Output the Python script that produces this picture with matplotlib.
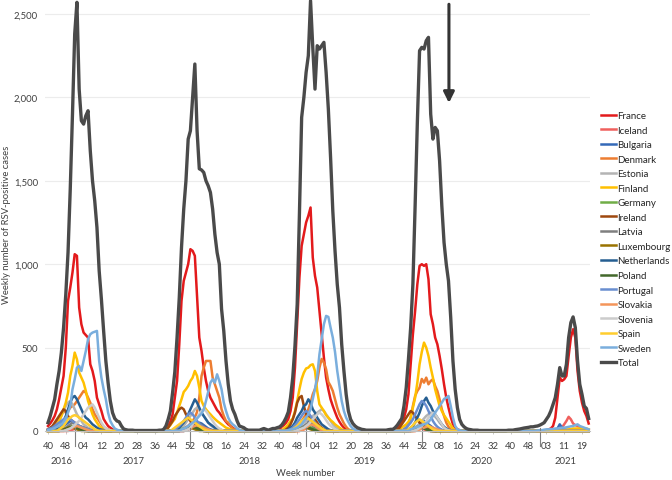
import matplotlib.pyplot as plt
import matplotlib.transforms as mtransforms
import numpy as np

plt.rcParams['font.family'] = ['Lato', 'DejaVu Sans']

# weeks 2016-w40 ... 2021-w22 -> index 0..243
N_WEEKS = 244

WEEK_LABELS = ['40', '48', '04', '12', '20', '28', '36', '44', '52', '08', '16',
               '24', '32', '40', '48', '04', '12', '20', '28', '36', '44', '52',
               '08', '16', '24', '32', '40', '48', '03', '11', '19']
YEARS = ['2016', '2017', '2018', '2019', '2020', '2021']
YEAR_LAST_WEEK = [12, 64, 116, 168, 221, 243]   # index of the last week of each year shown

# values per season: {start week index: weekly counts}
TOTAL = {
    0: [50, 90, 140, 190, 280, 360, 470, 620, 820, 1070, 1450, 1900, 2380, 2570, 2050,
        1860, 1840, 1890, 1920, 1680, 1500, 1380, 1220, 960, 790, 600, 420, 290, 180,
        110, 75, 60, 55, 30, 12, 8, 5, 5, 5, 3, 3, 3, 3, 3, 3, 3, 3, 3, 3, 3, 5, 5],
    52: [10, 30, 70, 120, 230, 354, 560, 800, 1100, 1330, 1500, 1750, 1800, 2000, 2200,
         1800, 1572, 1565, 1550, 1500, 1470, 1430, 1330, 1180, 1070, 1000, 732, 600, 420,
         280, 180, 130, 100, 60, 30, 25, 20, 10, 5, 5, 5, 5, 5, 5, 10, 15, 10, 5, 10, 15,
         15, 20],
    104: [24, 35, 54, 80, 114, 200, 320, 510, 760, 1300, 1880, 2000, 2150, 2250, 2580,
          2300, 2050, 2310, 2290, 2310, 2330, 2150, 1930, 1640, 1320, 1080, 880, 740, 520,
          360, 220, 120, 70, 45, 30, 20, 15, 10, 8, 5, 5, 5, 5, 5, 5, 5, 5, 5, 5, 8, 10],
    155: [10, 20, 35, 55, 75, 150, 260, 430, 620, 880, 1350, 1850, 2280, 2300, 2290, 2340,
          2360, 1900, 1750, 1820, 1800, 1620, 1350, 1130, 1000, 900, 680, 420, 250, 140,
          70, 40, 25, 15, 10, 8, 5, 5, 5, 3, 3, 3, 3, 3, 3, 3, 3, 3, 3, 3],
    205: [3, 3, 5, 5, 5, 8, 10, 12, 15, 18, 20, 22, 25, 25, 28, 30, 35, 42, 50, 70, 90,
          120, 160, 200, 280, 380, 330, 330, 400, 560, 650, 684, 620, 420, 280, 220, 150,
          135, 75],
}
FRANCE = {
    0: [30, 45, 65, 90, 130, 190, 260, 330, 500, 780, 860, 950, 1060, 1050, 740, 640, 590,
        575, 560, 400, 360, 300, 200, 160, 120, 72, 50, 30, 20, 10, 5],
    52: [5, 15, 30, 55, 100, 200, 300, 520, 780, 900, 950, 1000, 1090, 1080, 1050, 800,
         560, 480, 380, 300, 240, 200, 175, 150, 125, 110, 90, 72, 55, 40, 30, 20, 10, 5],
    104: [10, 25, 35, 50, 72, 120, 200, 380, 650, 920, 1110, 1180, 1250, 1290, 1340, 1040,
          930, 860, 720, 580, 440, 320, 250, 190, 150, 114, 80, 55, 35, 20, 10],
    155: [5, 10, 20, 35, 55, 80, 130, 220, 400, 580, 720, 880, 990, 1000, 990, 1000, 910,
          700, 640, 560, 520, 450, 370, 280, 200, 140, 85, 40, 20, 10, 5],
    224: [5, 10, 15, 30, 80, 200, 320, 300, 310, 330, 450, 560, 610, 560, 360, 240, 170,
          120, 90, 45],
}
ICELAND = {
    10: [5, 8, 12, 15, 12, 8, 5],
    62: [5, 10, 15, 20, 25, 20, 15, 10, 5],
    114: [5, 10, 15, 20, 15, 10, 5],
    166: [5, 10, 15, 10, 5],
    230: [10, 20, 40, 60, 85, 70, 45, 35, 30, 25, 20, 15, 10, 5],
}
BULGARIA = {
    3: [5, 10, 15, 20, 30, 40, 50, 60, 55, 45, 35, 25, 15, 10, 5],
    62: [5, 10, 15, 25, 35, 45, 50, 45, 35, 25, 15, 10, 5],
    110: [5, 10, 20, 30, 45, 60, 70, 60, 45, 30, 20, 10, 5],
    163: [5, 10, 20, 30, 40, 50, 60, 50, 40, 30, 20, 10, 5],
    228: [5, 15, 40, 20, 10, 8, 5],
}
DENMARK = {
    0: [10, 15, 25, 40, 60, 80, 100, 120, 110, 120, 140, 150, 160, 180, 200, 220, 240,
        230, 200, 170, 130, 100, 80, 60, 40, 25, 15, 10],
    60: [10, 15, 20, 30, 45, 60, 80, 115, 200, 330, 380, 420, 420, 420, 320, 280, 240,
         200, 130, 90, 60, 50, 30, 15, 8],
    112: [20, 40, 60, 80, 100, 130, 170, 220, 252, 300, 380, 432, 410, 370, 294, 270, 240,
          190, 140, 100, 72, 45, 25, 10, 5],
    160: [10, 20, 40, 80, 150, 210, 240, 260, 312, 290, 320, 280, 300, 310, 270, 240, 190,
          130, 90, 50, 25, 10],
}
ESTONIA = {
    0: [5, 10, 15, 25, 40, 60, 90, 120, 150, 170, 180, 160, 130, 100, 80, 60, 40, 30, 20,
        15, 10, 5],
    58: [5, 10, 20, 30, 50, 70, 90, 110, 130, 140, 130, 110, 90, 70, 50, 35, 25, 15, 10, 5],
    110: [5, 10, 20, 30, 40, 50, 60, 70, 80, 90, 100, 110, 120, 130, 120, 100, 80, 60, 40,
          25, 15, 8],
    163: [5, 10, 20, 30, 45, 60, 75, 90, 100, 110, 100, 85, 70, 50, 35, 20, 10, 5],
}
FINLAND = {
    0: [5, 10, 15, 25, 40, 60, 90, 130, 170, 230, 330, 390, 470, 430, 350, 320, 290, 240,
        180, 140, 100, 70, 50, 30, 20, 10, 5],
    52: [5, 10, 20, 35, 55, 72, 110, 150, 190, 234, 250, 270, 300, 320, 360, 330, 260, 180,
         150, 130, 114, 100, 85, 72, 60, 50, 40, 30, 20, 15, 10, 5],
    106: [15, 25, 40, 60, 75, 120, 180, 250, 312, 350, 375, 380, 395, 400, 360, 240, 160,
          140, 120, 95, 80, 65, 54, 40, 30, 20, 10, 5],
    158: [10, 20, 30, 40, 55, 80, 140, 200, 290, 400, 474, 530, 500, 450, 380, 320, 250,
          200, 150, 120, 95, 75, 55, 35, 15, 5],
    232: [5, 8, 10, 12, 15, 15, 15, 15, 15, 15, 15, 10],
}
GERMANY = {
    5: [5, 8, 10, 15, 20, 25, 30, 30, 25, 20, 15, 10, 5],
    58: [5, 8, 12, 15, 20, 25, 30, 30, 25, 20, 15, 10, 5],
    110: [5, 8, 12, 18, 22, 28, 30, 28, 22, 16, 10, 5],
    162: [5, 8, 12, 18, 25, 30, 30, 25, 20, 15, 10, 5],
}
IRELAND = {
    0: [10, 20, 30, 50, 70, 90, 110, 130, 120, 90, 70, 60, 50, 40, 30, 25, 20, 15, 10, 5],
    53: [10, 20, 40, 60, 90, 110, 130, 140, 130, 100, 80, 60, 40, 25, 15, 10, 5],
    107: [10, 20, 40, 70, 110, 170, 200, 210, 150, 100, 90, 70, 60, 70, 50, 30, 20, 10, 5],
    157: [10, 20, 40, 60, 80, 100, 120, 110, 90, 70, 50, 40, 30, 20, 10, 5],
}
LATVIA = {
    6: [5, 10, 20, 30, 40, 50, 45, 40, 30, 25, 20, 15, 10, 5],
    60: [5, 10, 20, 30, 40, 50, 60, 55, 45, 35, 25, 15, 10, 5],
    112: [5, 10, 20, 30, 40, 50, 60, 50, 40, 30, 20, 10, 5],
    164: [5, 10, 20, 30, 40, 45, 40, 30, 20, 10, 5],
}
LUXEMBOURG = {
    6: [5, 10, 15, 20, 25, 20, 15, 10, 5],
    60: [5, 10, 15, 20, 20, 15, 10, 5],
    113: [5, 10, 15, 20, 15, 10, 5],
    165: [5, 10, 15, 20, 15, 10, 5],
}
NETHERLANDS = {
    0: [5, 8, 10, 10, 15, 25, 40, 60, 90, 130, 170, 200, 210, 190, 160, 130, 100, 80, 70,
        55, 40, 30, 20, 12, 8, 5],
    57: [5, 10, 20, 35, 50, 70, 100, 130, 160, 190, 170, 140, 110, 90, 70, 50, 40, 30, 20,
         15, 10, 5],
    108: [10, 20, 30, 50, 80, 100, 120, 150, 160, 190, 170, 130, 110, 80, 60, 40, 30, 20,
          10, 5],
    162: [10, 20, 30, 50, 80, 110, 150, 180, 200, 170, 150, 120, 100, 80, 60, 40, 25, 15, 8],
}
POLAND = {
    6: [5, 8, 12, 18, 22, 25, 22, 18, 12, 8, 5],
    60: [5, 10, 15, 20, 25, 25, 20, 15, 10, 5],
    112: [5, 10, 15, 20, 25, 20, 15, 10, 5],
    164: [5, 10, 15, 20, 20, 15, 10, 5],
}
PORTUGAL = {
    0: [10, 15, 20, 30, 40, 50, 60, 70, 80, 75, 70, 60, 50, 40, 30, 25, 20, 15, 10, 5],
    56: [5, 10, 20, 30, 45, 60, 80, 100, 110, 100, 80, 60, 40, 30, 20, 10, 5],
    108: [5, 10, 20, 35, 50, 70, 90, 110, 120, 110, 90, 70, 50, 35, 20, 10, 5],
    160: [10, 20, 35, 50, 70, 100, 130, 160, 180, 170, 150, 120, 90, 60, 40, 25, 15, 8],
}
SLOVAKIA = {
    8: [5, 10, 15, 20, 25, 30, 25, 20, 15, 10, 5],
    62: [5, 10, 15, 25, 30, 35, 30, 25, 20, 15, 10, 5],
    114: [5, 10, 20, 30, 40, 35, 30, 20, 10, 5],
    166: [5, 10, 15, 20, 25, 30, 25, 20, 15, 10, 5],
}
SLOVENIA = {
    8: [5, 10, 15, 25, 35, 50, 60, 80, 100, 120, 140, 150, 160, 140, 110, 80, 50, 30, 15,
        8, 5],
    62: [5, 10, 20, 40, 60, 80, 100, 120, 130, 120, 100, 80, 60, 40, 25, 15, 8],
    112: [5, 10, 15, 20, 30, 40, 55, 70, 85, 100, 110, 100, 85, 65, 45, 30, 20, 10, 5],
    165: [5, 10, 20, 30, 45, 60, 80, 95, 110, 100, 80, 60, 40, 20, 10, 5],
}
SPAIN = {
    5: [10, 20, 30, 50, 70, 80, 90, 95, 90, 80, 70, 60, 50, 40, 30, 20, 10, 5],
    56: [10, 20, 30, 40, 50, 60, 70, 80, 70, 60, 50, 40, 30, 20, 10, 5],
    110: [10, 20, 30, 45, 60, 70, 80, 75, 65, 55, 45, 35, 25, 15, 8],
    162: [10, 20, 35, 50, 60, 70, 60, 50, 40, 30, 20, 10, 5],
}
SWEDEN = {
    0: [5, 8, 12, 18, 25, 30, 40, 55, 75, 110, 150, 250, 310, 380, 390, 360, 420, 480, 550,
        580, 590, 595, 600, 420, 320, 250, 190, 110, 60, 35, 15, 8, 3],
    60: [10, 15, 20, 30, 40, 50, 60, 75, 90, 105, 130, 180, 234, 290, 310, 290, 340, 300,
         250, 170, 120, 80, 55, 40, 30, 15, 8],
    108: [5, 8, 10, 15, 20, 30, 40, 60, 80, 100, 130, 190, 252, 330, 460, 552, 640, 690,
          684, 620, 560, 474, 360, 270, 180, 120, 80, 54, 30, 15, 8],
    163: [10, 15, 20, 25, 30, 35, 40, 45, 54, 70, 90, 110, 130, 150, 170, 192, 200, 210,
          150, 80, 30, 10, 5],
    220: [3, 5, 5, 8, 10, 10, 12, 12, 15, 15, 18, 20, 20, 22, 25, 28, 30, 35, 40, 30, 25,
          20, 15, 10],
}


def build(segments):
    y = np.zeros(N_WEEKS)
    for start, vals in segments.items():
        y[start:start + len(vals)] = vals
    return y


series = [
    ('France', '#E31A1C', FRANCE),
    ('Iceland', '#F0605D', ICELAND),
    ('Bulgaria', '#3469B8', BULGARIA),
    ('Denmark', '#ED7D31', DENMARK),
    ('Estonia', '#B4B4B4', ESTONIA),
    ('Finland', '#FFC000', FINLAND),
    ('Germany', '#70AD47', GERMANY),
    ('Ireland', '#9E480E', IRELAND),
    ('Latvia', '#7F7F7F', LATVIA),
    ('Luxembourg', '#997300', LUXEMBOURG),
    ('Netherlands', '#255E91', NETHERLANDS),
    ('Poland', '#43682B', POLAND),
    ('Portugal', '#698ED0', PORTUGAL),
    ('Slovakia', '#F4955A', SLOVAKIA),
    ('Slovenia', '#CCCCCC', SLOVENIA),
    ('Spain', '#FFCD2E', SPAIN),
    ('Sweden', '#7AAEDD', SWEDEN),
    ('Total', '#4A4A4A', TOTAL),
]

W, H = 672, 481
fig = plt.figure(figsize=(W / 100, H / 100), dpi=100)
ax = fig.add_axes([45 / W, 49 / H, 545 / W, 432 / H])

weeks = np.arange(N_WEEKS)
for name, color, seg in series:
    lw = 2.4 if name == 'Total' else 1.8
    ax.plot(weeks, build(seg), color=color, lw=lw, label=name, clip_on=False,
            solid_joinstyle='round')

ax.set_xlim(-1.35, 243.6)
ax.set_ylim(0, 2590)

# grid + axes styling
ax.set_yticks(range(0, 2501, 500))
ax.set_yticklabels([f'{v:,}' for v in range(0, 2501, 500)])
ax.yaxis.grid(True, color='#ECECEC', lw=0.8)
ax.set_axisbelow(True)
for s in ['top', 'right', 'left']:
    ax.spines[s].set_visible(False)
ax.spines['bottom'].set_color('#BFBFBF')
ax.spines['bottom'].set_linewidth(0.8)
ax.tick_params(axis='y', length=0, pad=5, labelsize=6.8, labelcolor='#404040')

ax.set_xticks(range(0, 241, 8))
ax.set_xticklabels(WEEK_LABELS)
ax.tick_params(axis='x', length=2, width=0.6, color='#BFBFBF', pad=5,
               labelsize=6.8, labelcolor='#404040')

# year separators and year labels
trans = mtransforms.blended_transform_factory(ax.transData, ax.transAxes)
for end in YEAR_LAST_WEEK[:-1]:
    ax.plot([end, end], [0.008, -0.035], transform=trans, color='#808080', lw=0.8,
            clip_on=False)
first = 0
for year, end in zip(YEARS, YEAR_LAST_WEEK):
    ax.text((first + end) / 2, -0.069, year, transform=trans, ha='center', va='center',
            fontsize=6.8, color='#404040')
    first = end + 1

fig.text(305 / W, 1 - 474 / H, 'Week number', ha='center', va='center', fontsize=6.8,
         color='#404040')
fig.text(7 / W, 1 - 225 / H, 'Weekly number of RSV-positive cases', rotation=90,
         ha='center', va='center', fontsize=6.8, color='#404040')

# arrow marking week 12 of 2020
ax.annotate('', xy=(180.2, 1950), xytext=(180.2, 2575),
            arrowprops=dict(arrowstyle='-|>', color='#333333', lw=2.2, mutation_scale=16))

ax.legend(loc='upper left', bbox_to_anchor=(601 / W, 1 - 112 / H),
          bbox_transform=fig.transFigure, frameon=False, fontsize=7,
          handlelength=1.5, handletextpad=0.2, labelspacing=0.57, borderpad=0,
          borderaxespad=0, labelcolor='#262626')

fig.savefig('out.png', dpi=100)
